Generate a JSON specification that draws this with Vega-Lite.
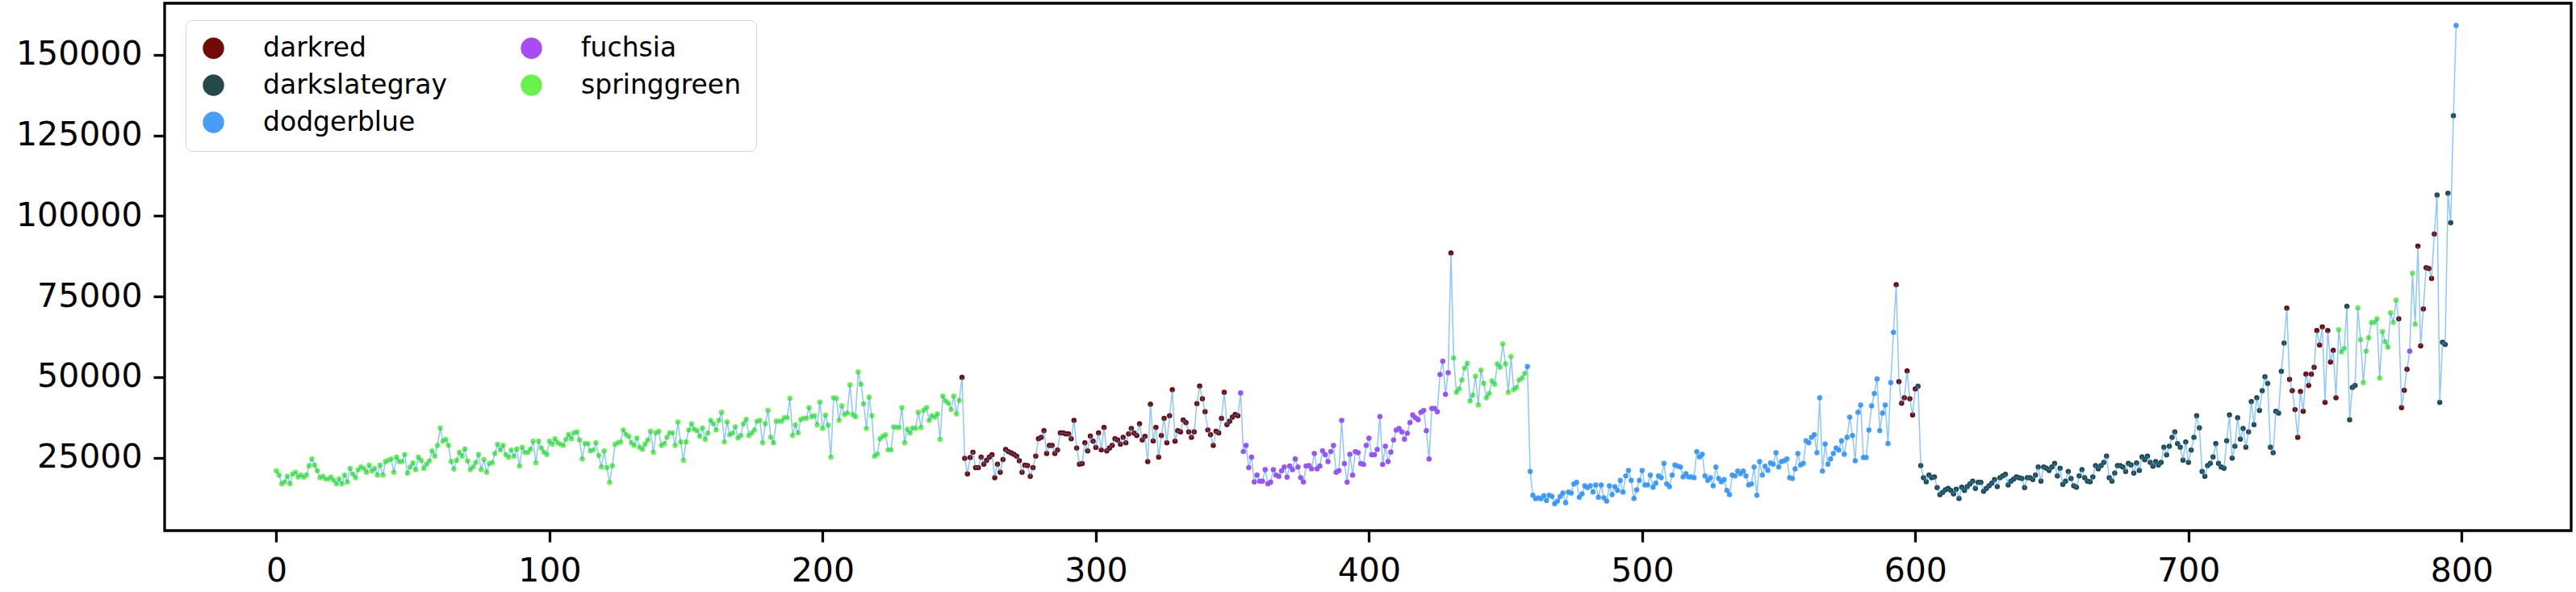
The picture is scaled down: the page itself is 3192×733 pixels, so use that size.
{
"$schema":"https://vega.github.io/schema/vega-lite/v6.json",
"width":2982,"height":653,
"autosize":{"type":"none"},
"padding":{"left":204,"top":4,"right":6,"bottom":76},
"background":"white",
"config":{"view":{"stroke":"#000000","strokeWidth":3.3},"font":"DejaVu Sans",
"axis":{"domain":false,"grid":false,"ticks":true,"tickColor":"#000000","tickWidth":3.3,"tickSize":14,"labelFont":"DejaVu Sans","labelFontSize":41,"labelColor":"#000000","title":null}},
"data":{"values":[
{"x":0,"y":20900,"c":"springgreen"},{"x":1,"y":19600,"c":"springgreen"},{"x":2,"y":16900,"c":"springgreen"},{"x":3,"y":17500,"c":"springgreen"},{"x":4,"y":19200,"c":"springgreen"},{"x":5,"y":16900,"c":"springgreen"},{"x":6,"y":20000,"c":"springgreen"},{"x":7,"y":20500,"c":"springgreen"},{"x":8,"y":19000,"c":"springgreen"},{"x":9,"y":19600,"c":"springgreen"},
{"x":10,"y":19000,"c":"springgreen"},{"x":11,"y":19600,"c":"springgreen"},{"x":12,"y":22500,"c":"springgreen"},{"x":13,"y":24600,"c":"springgreen"},{"x":14,"y":22700,"c":"springgreen"},{"x":15,"y":21000,"c":"springgreen"},{"x":16,"y":18800,"c":"springgreen"},{"x":17,"y":19200,"c":"springgreen"},{"x":18,"y":18400,"c":"springgreen"},{"x":19,"y":18400,"c":"springgreen"},
{"x":20,"y":19000,"c":"springgreen"},{"x":21,"y":18000,"c":"springgreen"},{"x":22,"y":16900,"c":"springgreen"},{"x":23,"y":18400,"c":"springgreen"},{"x":24,"y":16900,"c":"springgreen"},{"x":25,"y":19600,"c":"springgreen"},{"x":26,"y":17500,"c":"springgreen"},{"x":27,"y":21700,"c":"springgreen"},{"x":28,"y":19900,"c":"springgreen"},{"x":29,"y":18800,"c":"springgreen"},
{"x":30,"y":21300,"c":"springgreen"},{"x":31,"y":22100,"c":"springgreen"},{"x":32,"y":21700,"c":"springgreen"},{"x":33,"y":20500,"c":"springgreen"},{"x":34,"y":22700,"c":"springgreen"},{"x":35,"y":20900,"c":"springgreen"},{"x":36,"y":21700,"c":"springgreen"},{"x":37,"y":19600,"c":"springgreen"},{"x":38,"y":22700,"c":"springgreen"},{"x":39,"y":19600,"c":"springgreen"},
{"x":40,"y":23800,"c":"springgreen"},{"x":41,"y":24200,"c":"springgreen"},{"x":42,"y":24600,"c":"springgreen"},{"x":43,"y":20500,"c":"springgreen"},{"x":44,"y":25200,"c":"springgreen"},{"x":45,"y":23800,"c":"springgreen"},{"x":46,"y":23800,"c":"springgreen"},{"x":47,"y":26000,"c":"springgreen"},{"x":48,"y":20200,"c":"springgreen"},{"x":49,"y":22100,"c":"springgreen"},
{"x":50,"y":23400,"c":"springgreen"},{"x":51,"y":21300,"c":"springgreen"},{"x":52,"y":25200,"c":"springgreen"},{"x":53,"y":24200,"c":"springgreen"},{"x":54,"y":21700,"c":"springgreen"},{"x":55,"y":23000,"c":"springgreen"},{"x":56,"y":24000,"c":"springgreen"},{"x":57,"y":27100,"c":"springgreen"},{"x":58,"y":25500,"c":"springgreen"},{"x":59,"y":28800,"c":"springgreen"},
{"x":60,"y":34200,"c":"springgreen"},{"x":61,"y":30100,"c":"springgreen"},{"x":62,"y":30700,"c":"springgreen"},{"x":63,"y":28800,"c":"springgreen"},{"x":64,"y":23800,"c":"springgreen"},{"x":65,"y":21500,"c":"springgreen"},{"x":66,"y":24200,"c":"springgreen"},{"x":67,"y":26700,"c":"springgreen"},{"x":68,"y":25500,"c":"springgreen"},{"x":69,"y":27700,"c":"springgreen"},
{"x":70,"y":24000,"c":"springgreen"},{"x":71,"y":21300,"c":"springgreen"},{"x":72,"y":22100,"c":"springgreen"},{"x":73,"y":23500,"c":"springgreen"},{"x":74,"y":26000,"c":"springgreen"},{"x":75,"y":21300,"c":"springgreen"},{"x":76,"y":24400,"c":"springgreen"},{"x":77,"y":20500,"c":"springgreen"},{"x":78,"y":23200,"c":"springgreen"},{"x":79,"y":23400,"c":"springgreen"},
{"x":80,"y":26300,"c":"springgreen"},{"x":81,"y":29100,"c":"springgreen"},{"x":82,"y":27400,"c":"springgreen"},{"x":83,"y":28800,"c":"springgreen"},{"x":84,"y":25900,"c":"springgreen"},{"x":85,"y":25200,"c":"springgreen"},{"x":86,"y":27400,"c":"springgreen"},{"x":87,"y":25500,"c":"springgreen"},{"x":88,"y":27700,"c":"springgreen"},{"x":89,"y":22400,"c":"springgreen"},
{"x":90,"y":28200,"c":"springgreen"},{"x":91,"y":26600,"c":"springgreen"},{"x":92,"y":26600,"c":"springgreen"},{"x":93,"y":27600,"c":"springgreen"},{"x":94,"y":30100,"c":"springgreen"},{"x":95,"y":23400,"c":"springgreen"},{"x":96,"y":30100,"c":"springgreen"},{"x":97,"y":28000,"c":"springgreen"},{"x":98,"y":26700,"c":"springgreen"},{"x":99,"y":26000,"c":"springgreen"},
{"x":100,"y":30100,"c":"springgreen"},{"x":101,"y":29200,"c":"springgreen"},{"x":102,"y":30900,"c":"springgreen"},{"x":103,"y":29600,"c":"springgreen"},{"x":104,"y":29200,"c":"springgreen"},{"x":105,"y":28800,"c":"springgreen"},{"x":106,"y":30700,"c":"springgreen"},{"x":107,"y":32200,"c":"springgreen"},{"x":108,"y":30900,"c":"springgreen"},{"x":109,"y":32700,"c":"springgreen"},
{"x":110,"y":33000,"c":"springgreen"},{"x":111,"y":30500,"c":"springgreen"},{"x":112,"y":24600,"c":"springgreen"},{"x":113,"y":29400,"c":"springgreen"},{"x":114,"y":29400,"c":"springgreen"},{"x":115,"y":27100,"c":"springgreen"},{"x":116,"y":27400,"c":"springgreen"},{"x":117,"y":29600,"c":"springgreen"},{"x":118,"y":25700,"c":"springgreen"},{"x":119,"y":22100,"c":"springgreen"},
{"x":120,"y":27100,"c":"springgreen"},{"x":121,"y":21900,"c":"springgreen"},{"x":122,"y":17300,"c":"springgreen"},{"x":123,"y":22500,"c":"springgreen"},{"x":124,"y":29100,"c":"springgreen"},{"x":125,"y":29600,"c":"springgreen"},{"x":126,"y":29900,"c":"springgreen"},{"x":127,"y":33600,"c":"springgreen"},{"x":128,"y":32200,"c":"springgreen"},{"x":129,"y":31600,"c":"springgreen"},
{"x":130,"y":29600,"c":"springgreen"},{"x":131,"y":28800,"c":"springgreen"},{"x":132,"y":31100,"c":"springgreen"},{"x":133,"y":28200,"c":"springgreen"},{"x":134,"y":27600,"c":"springgreen"},{"x":135,"y":29200,"c":"springgreen"},{"x":136,"y":30500,"c":"springgreen"},{"x":137,"y":33200,"c":"springgreen"},{"x":138,"y":26700,"c":"springgreen"},{"x":139,"y":32700,"c":"springgreen"},
{"x":140,"y":33200,"c":"springgreen"},{"x":141,"y":28800,"c":"springgreen"},{"x":142,"y":29400,"c":"springgreen"},{"x":143,"y":31300,"c":"springgreen"},{"x":144,"y":32700,"c":"springgreen"},{"x":145,"y":32700,"c":"springgreen"},{"x":146,"y":28800,"c":"springgreen"},{"x":147,"y":36100,"c":"springgreen"},{"x":148,"y":29900,"c":"springgreen"},{"x":149,"y":24200,"c":"springgreen"},
{"x":150,"y":29900,"c":"springgreen"},{"x":151,"y":33600,"c":"springgreen"},{"x":152,"y":35500,"c":"springgreen"},{"x":153,"y":33800,"c":"springgreen"},{"x":154,"y":33400,"c":"springgreen"},{"x":155,"y":31600,"c":"springgreen"},{"x":156,"y":34200,"c":"springgreen"},{"x":157,"y":30700,"c":"springgreen"},{"x":158,"y":32600,"c":"springgreen"},{"x":159,"y":36600,"c":"springgreen"},
{"x":160,"y":35500,"c":"springgreen"},{"x":161,"y":33600,"c":"springgreen"},{"x":162,"y":36600,"c":"springgreen"},{"x":163,"y":39100,"c":"springgreen"},{"x":164,"y":29900,"c":"springgreen"},{"x":165,"y":36100,"c":"springgreen"},{"x":166,"y":32100,"c":"springgreen"},{"x":167,"y":32600,"c":"springgreen"},{"x":168,"y":34600,"c":"springgreen"},{"x":169,"y":31100,"c":"springgreen"},
{"x":170,"y":31900,"c":"springgreen"},{"x":171,"y":35500,"c":"springgreen"},{"x":172,"y":36900,"c":"springgreen"},{"x":173,"y":31900,"c":"springgreen"},{"x":174,"y":32600,"c":"springgreen"},{"x":175,"y":33600,"c":"springgreen"},{"x":176,"y":36300,"c":"springgreen"},{"x":177,"y":36600,"c":"springgreen"},{"x":178,"y":29600,"c":"springgreen"},{"x":179,"y":35500,"c":"springgreen"},
{"x":180,"y":39700,"c":"springgreen"},{"x":181,"y":31300,"c":"springgreen"},{"x":182,"y":29600,"c":"springgreen"},{"x":183,"y":36300,"c":"springgreen"},{"x":184,"y":36300,"c":"springgreen"},{"x":185,"y":36300,"c":"springgreen"},{"x":186,"y":37400,"c":"springgreen"},{"x":187,"y":37400,"c":"springgreen"},{"x":188,"y":43400,"c":"springgreen"},{"x":189,"y":31900,"c":"springgreen"},
{"x":190,"y":35200,"c":"springgreen"},{"x":191,"y":32700,"c":"springgreen"},{"x":192,"y":36900,"c":"springgreen"},{"x":193,"y":37200,"c":"springgreen"},{"x":194,"y":37200,"c":"springgreen"},{"x":195,"y":40500,"c":"springgreen"},{"x":196,"y":37700,"c":"springgreen"},{"x":197,"y":38000,"c":"springgreen"},{"x":198,"y":35200,"c":"springgreen"},{"x":199,"y":42200,"c":"springgreen"},
{"x":200,"y":34100,"c":"springgreen"},{"x":201,"y":38200,"c":"springgreen"},{"x":202,"y":35100,"c":"springgreen"},{"x":203,"y":25200,"c":"springgreen"},{"x":204,"y":43600,"c":"springgreen"},{"x":205,"y":43400,"c":"springgreen"},{"x":206,"y":36600,"c":"springgreen"},{"x":207,"y":41100,"c":"springgreen"},{"x":208,"y":38400,"c":"springgreen"},{"x":209,"y":38800,"c":"springgreen"},
{"x":210,"y":47600,"c":"springgreen"},{"x":211,"y":38400,"c":"springgreen"},{"x":212,"y":37700,"c":"springgreen"},{"x":213,"y":51600,"c":"springgreen"},{"x":214,"y":47800,"c":"springgreen"},{"x":215,"y":41700,"c":"springgreen"},{"x":216,"y":34100,"c":"springgreen"},{"x":217,"y":43800,"c":"springgreen"},{"x":218,"y":38000,"c":"springgreen"},{"x":219,"y":25500,"c":"springgreen"},
{"x":220,"y":26100,"c":"springgreen"},{"x":221,"y":30900,"c":"springgreen"},{"x":222,"y":31600,"c":"springgreen"},{"x":223,"y":32100,"c":"springgreen"},{"x":224,"y":27400,"c":"springgreen"},{"x":225,"y":27400,"c":"springgreen"},{"x":226,"y":34600,"c":"springgreen"},{"x":227,"y":34400,"c":"springgreen"},{"x":228,"y":34400,"c":"springgreen"},{"x":229,"y":40500,"c":"springgreen"},
{"x":230,"y":29600,"c":"springgreen"},{"x":231,"y":33800,"c":"springgreen"},{"x":232,"y":32600,"c":"springgreen"},{"x":233,"y":34200,"c":"springgreen"},{"x":234,"y":34100,"c":"springgreen"},{"x":235,"y":39100,"c":"springgreen"},{"x":236,"y":34400,"c":"springgreen"},{"x":237,"y":39700,"c":"springgreen"},{"x":238,"y":40500,"c":"springgreen"},{"x":239,"y":36600,"c":"springgreen"},
{"x":240,"y":38000,"c":"springgreen"},{"x":241,"y":37600,"c":"springgreen"},{"x":242,"y":38600,"c":"springgreen"},{"x":243,"y":30700,"c":"springgreen"},{"x":244,"y":44100,"c":"springgreen"},{"x":245,"y":42600,"c":"springgreen"},{"x":246,"y":41900,"c":"springgreen"},{"x":247,"y":39900,"c":"springgreen"},{"x":248,"y":44100,"c":"springgreen"},{"x":249,"y":38600,"c":"springgreen"},
{"x":250,"y":42750,"c":"springgreen"},{"x":251,"y":49900,"c":"darkred"},{"x":252,"y":24800,"c":"darkred"},{"x":253,"y":20000,"c":"darkred"},{"x":254,"y":25050,"c":"darkred"},{"x":255,"y":26700,"c":"darkred"},{"x":256,"y":21900,"c":"darkred"},{"x":257,"y":21900,"c":"darkred"},{"x":258,"y":25200,"c":"darkred"},{"x":259,"y":23000,"c":"darkred"},
{"x":260,"y":24200,"c":"darkred"},{"x":261,"y":25200,"c":"darkred"},{"x":262,"y":25900,"c":"darkred"},{"x":263,"y":18800,"c":"darkred"},{"x":264,"y":23000,"c":"darkred"},{"x":265,"y":20500,"c":"darkred"},{"x":266,"y":24400,"c":"darkred"},{"x":267,"y":27550,"c":"darkred"},{"x":268,"y":26900,"c":"darkred"},{"x":269,"y":26500,"c":"darkred"},
{"x":270,"y":26050,"c":"darkred"},{"x":271,"y":25500,"c":"darkred"},{"x":272,"y":24050,"c":"darkred"},{"x":273,"y":20500,"c":"darkred"},{"x":274,"y":22700,"c":"darkred"},{"x":275,"y":22550,"c":"darkred"},{"x":276,"y":19200,"c":"darkred"},{"x":277,"y":21900,"c":"darkred"},{"x":278,"y":25500,"c":"darkred"},{"x":279,"y":30900,"c":"darkred"},
{"x":280,"y":31300,"c":"darkred"},{"x":281,"y":33400,"c":"darkred"},{"x":282,"y":26300,"c":"darkred"},{"x":283,"y":28800,"c":"darkred"},{"x":284,"y":28800,"c":"darkred"},{"x":285,"y":26300,"c":"darkred"},{"x":286,"y":27400,"c":"darkred"},{"x":287,"y":32700,"c":"darkred"},{"x":288,"y":32700,"c":"darkred"},{"x":289,"y":32400,"c":"darkred"},
{"x":290,"y":32400,"c":"darkred"},{"x":291,"y":30900,"c":"darkred"},{"x":292,"y":36600,"c":"darkred"},{"x":293,"y":28000,"c":"darkred"},{"x":294,"y":23000,"c":"darkred"},{"x":295,"y":23200,"c":"darkred"},{"x":296,"y":29600,"c":"darkred"},{"x":297,"y":27100,"c":"darkred"},{"x":298,"y":31700,"c":"darkred"},{"x":299,"y":30100,"c":"darkred"},
{"x":300,"y":28200,"c":"darkred"},{"x":301,"y":32700,"c":"darkred"},{"x":302,"y":27400,"c":"darkred"},{"x":303,"y":34400,"c":"darkred"},{"x":304,"y":27100,"c":"darkred"},{"x":305,"y":28000,"c":"darkred"},{"x":306,"y":28800,"c":"darkred"},{"x":307,"y":30900,"c":"darkred"},{"x":308,"y":30500,"c":"darkred"},{"x":309,"y":29200,"c":"darkred"},
{"x":310,"y":31300,"c":"darkred"},{"x":311,"y":29600,"c":"darkred"},{"x":312,"y":32400,"c":"darkred"},{"x":313,"y":34100,"c":"darkred"},{"x":314,"y":32600,"c":"darkred"},{"x":315,"y":31900,"c":"darkred"},{"x":316,"y":35500,"c":"darkred"},{"x":317,"y":30500,"c":"darkred"},{"x":318,"y":31600,"c":"darkred"},{"x":319,"y":23800,"c":"darkred"},
{"x":320,"y":41600,"c":"darkred"},{"x":321,"y":30200,"c":"darkred"},{"x":322,"y":34400,"c":"darkred"},{"x":323,"y":25200,"c":"darkred"},{"x":324,"y":31900,"c":"darkred"},{"x":325,"y":37200,"c":"darkred"},{"x":326,"y":29600,"c":"darkred"},{"x":327,"y":38000,"c":"darkred"},{"x":328,"y":46100,"c":"darkred"},{"x":329,"y":30100,"c":"darkred"},
{"x":330,"y":33400,"c":"darkred"},{"x":331,"y":33000,"c":"darkred"},{"x":332,"y":36700,"c":"darkred"},{"x":333,"y":35900,"c":"darkred"},{"x":334,"y":33000,"c":"darkred"},{"x":335,"y":31300,"c":"darkred"},{"x":336,"y":33000,"c":"darkred"},{"x":337,"y":41750,"c":"darkred"},{"x":338,"y":47200,"c":"darkred"},{"x":339,"y":43250,"c":"darkred"},
{"x":340,"y":39250,"c":"darkred"},{"x":341,"y":33600,"c":"darkred"},{"x":342,"y":32150,"c":"darkred"},{"x":343,"y":28800,"c":"darkred"},{"x":344,"y":33200,"c":"darkred"},{"x":345,"y":32700,"c":"darkred"},{"x":346,"y":37200,"c":"darkred"},{"x":347,"y":45300,"c":"darkred"},{"x":348,"y":35250,"c":"darkred"},{"x":349,"y":36300,"c":"darkred"},
{"x":350,"y":37600,"c":"darkred"},{"x":351,"y":38400,"c":"darkred"},{"x":352,"y":38000,"c":"darkred"},{"x":353,"y":45100,"c":"fuchsia"},{"x":354,"y":26900,"c":"fuchsia"},{"x":355,"y":28800,"c":"fuchsia"},{"x":356,"y":21900,"c":"fuchsia"},{"x":357,"y":25200,"c":"fuchsia"},{"x":358,"y":17500,"c":"fuchsia"},{"x":359,"y":19600,"c":"fuchsia"},
{"x":360,"y":17700,"c":"fuchsia"},{"x":361,"y":17700,"c":"fuchsia"},{"x":362,"y":21300,"c":"fuchsia"},{"x":363,"y":16900,"c":"fuchsia"},{"x":364,"y":17400,"c":"fuchsia"},{"x":365,"y":21300,"c":"fuchsia"},{"x":366,"y":19600,"c":"fuchsia"},{"x":367,"y":19200,"c":"fuchsia"},{"x":368,"y":20900,"c":"fuchsia"},{"x":369,"y":22100,"c":"fuchsia"},
{"x":370,"y":19000,"c":"fuchsia"},{"x":371,"y":22400,"c":"fuchsia"},{"x":372,"y":21300,"c":"fuchsia"},{"x":373,"y":24600,"c":"fuchsia"},{"x":374,"y":22100,"c":"fuchsia"},{"x":375,"y":18800,"c":"fuchsia"},{"x":376,"y":17500,"c":"fuchsia"},{"x":377,"y":22400,"c":"fuchsia"},{"x":378,"y":22550,"c":"fuchsia"},{"x":379,"y":21550,"c":"fuchsia"},
{"x":380,"y":26300,"c":"fuchsia"},{"x":381,"y":21550,"c":"fuchsia"},{"x":382,"y":22400,"c":"fuchsia"},{"x":383,"y":27150,"c":"fuchsia"},{"x":384,"y":25900,"c":"fuchsia"},{"x":385,"y":23800,"c":"fuchsia"},{"x":386,"y":26900,"c":"fuchsia"},{"x":387,"y":28800,"c":"fuchsia"},{"x":388,"y":20500,"c":"fuchsia"},{"x":389,"y":21000,"c":"fuchsia"},
{"x":390,"y":36600,"c":"fuchsia"},{"x":391,"y":23200,"c":"fuchsia"},{"x":392,"y":17400,"c":"fuchsia"},{"x":393,"y":26050,"c":"fuchsia"},{"x":394,"y":19600,"c":"fuchsia"},{"x":395,"y":26900,"c":"fuchsia"},{"x":396,"y":26550,"c":"fuchsia"},{"x":397,"y":23200,"c":"fuchsia"},{"x":398,"y":22950,"c":"fuchsia"},{"x":399,"y":28800,"c":"fuchsia"},
{"x":400,"y":31060,"c":"fuchsia"},{"x":401,"y":25900,"c":"fuchsia"},{"x":402,"y":25900,"c":"fuchsia"},{"x":403,"y":27550,"c":"fuchsia"},{"x":404,"y":37740,"c":"fuchsia"},{"x":405,"y":22950,"c":"fuchsia"},{"x":406,"y":28560,"c":"fuchsia"},{"x":407,"y":23800,"c":"fuchsia"},{"x":408,"y":26720,"c":"fuchsia"},{"x":409,"y":30480,"c":"fuchsia"},
{"x":410,"y":33570,"c":"fuchsia"},{"x":411,"y":34070,"c":"fuchsia"},{"x":412,"y":32980,"c":"fuchsia"},{"x":413,"y":30730,"c":"fuchsia"},{"x":414,"y":32570,"c":"fuchsia"},{"x":415,"y":35900,"c":"fuchsia"},{"x":416,"y":38240,"c":"fuchsia"},{"x":417,"y":37410,"c":"fuchsia"},{"x":418,"y":36740,"c":"fuchsia"},{"x":419,"y":39080,"c":"fuchsia"},
{"x":420,"y":39660,"c":"fuchsia"},{"x":421,"y":33400,"c":"fuchsia"},{"x":422,"y":24630,"c":"fuchsia"},{"x":423,"y":40250,"c":"fuchsia"},{"x":424,"y":40250,"c":"fuchsia"},{"x":425,"y":39250,"c":"fuchsia"},{"x":426,"y":50770,"c":"fuchsia"},{"x":427,"y":54940,"c":"fuchsia"},{"x":428,"y":44670,"c":"fuchsia"},{"x":429,"y":51350,"c":"fuchsia"},
{"x":430,"y":88510,"c":"darkred"},{"x":431,"y":55950,"c":"springgreen"},{"x":432,"y":45260,"c":"springgreen"},{"x":433,"y":46340,"c":"springgreen"},{"x":434,"y":49100,"c":"springgreen"},{"x":435,"y":52770,"c":"springgreen"},{"x":436,"y":54280,"c":"springgreen"},{"x":437,"y":42590,"c":"springgreen"},{"x":438,"y":44420,"c":"springgreen"},{"x":439,"y":50270,"c":"springgreen"},
{"x":440,"y":41330,"c":"springgreen"},{"x":441,"y":52190,"c":"springgreen"},{"x":442,"y":48010,"c":"springgreen"},{"x":443,"y":43590,"c":"springgreen"},{"x":444,"y":44920,"c":"springgreen"},{"x":445,"y":48850,"c":"springgreen"},{"x":446,"y":47760,"c":"springgreen"},{"x":447,"y":54110,"c":"springgreen"},{"x":448,"y":53030,"c":"springgreen"},{"x":449,"y":60290,"c":"springgreen"},
{"x":450,"y":54110,"c":"springgreen"},{"x":451,"y":45260,"c":"springgreen"},{"x":452,"y":56360,"c":"springgreen"},{"x":453,"y":46090,"c":"springgreen"},{"x":454,"y":46760,"c":"springgreen"},{"x":455,"y":49100,"c":"springgreen"},{"x":456,"y":49680,"c":"springgreen"},{"x":457,"y":51100,"c":"springgreen"},{"x":458,"y":53270,"c":"dodgerblue"},{"x":459,"y":20710,"c":"dodgerblue"},
{"x":460,"y":13360,"c":"dodgerblue"},{"x":461,"y":12270,"c":"dodgerblue"},{"x":462,"y":12525,"c":"dodgerblue"},{"x":463,"y":12270,"c":"dodgerblue"},{"x":464,"y":13190,"c":"dodgerblue"},{"x":465,"y":11690,"c":"dodgerblue"},{"x":466,"y":13360,"c":"dodgerblue"},{"x":467,"y":12940,"c":"dodgerblue"},{"x":468,"y":10690,"c":"dodgerblue"},{"x":469,"y":11520,"c":"dodgerblue"},
{"x":470,"y":12940,"c":"dodgerblue"},{"x":471,"y":14030,"c":"dodgerblue"},{"x":472,"y":11020,"c":"dodgerblue"},{"x":473,"y":14360,"c":"dodgerblue"},{"x":474,"y":14030,"c":"dodgerblue"},{"x":475,"y":16870,"c":"dodgerblue"},{"x":476,"y":17370,"c":"dodgerblue"},{"x":477,"y":12690,"c":"dodgerblue"},{"x":478,"y":13780,"c":"dodgerblue"},{"x":479,"y":16280,"c":"dodgerblue"},
{"x":480,"y":15700,"c":"dodgerblue"},{"x":481,"y":16280,"c":"dodgerblue"},{"x":482,"y":14360,"c":"dodgerblue"},{"x":483,"y":16530,"c":"dodgerblue"},{"x":484,"y":12690,"c":"dodgerblue"},{"x":485,"y":16530,"c":"dodgerblue"},{"x":486,"y":12525,"c":"dodgerblue"},{"x":487,"y":11520,"c":"dodgerblue"},{"x":488,"y":16280,"c":"dodgerblue"},{"x":489,"y":13530,"c":"dodgerblue"},
{"x":490,"y":16030,"c":"dodgerblue"},{"x":491,"y":14860,"c":"dodgerblue"},{"x":492,"y":17950,"c":"dodgerblue"},{"x":493,"y":14360,"c":"dodgerblue"},{"x":494,"y":19370,"c":"dodgerblue"},{"x":495,"y":21040,"c":"dodgerblue"},{"x":496,"y":17950,"c":"dodgerblue"},{"x":497,"y":12360,"c":"dodgerblue"},{"x":498,"y":15030,"c":"dodgerblue"},{"x":499,"y":17950,"c":"dodgerblue"},
{"x":500,"y":21040,"c":"dodgerblue"},{"x":501,"y":16530,"c":"dodgerblue"},{"x":502,"y":16530,"c":"dodgerblue"},{"x":503,"y":19620,"c":"dodgerblue"},{"x":504,"y":15860,"c":"dodgerblue"},{"x":505,"y":17120,"c":"dodgerblue"},{"x":506,"y":19370,"c":"dodgerblue"},{"x":507,"y":18790,"c":"dodgerblue"},{"x":508,"y":23210,"c":"dodgerblue"},{"x":509,"y":16870,"c":"dodgerblue"},
{"x":510,"y":16030,"c":"dodgerblue"},{"x":511,"y":19620,"c":"dodgerblue"},{"x":512,"y":22710,"c":"dodgerblue"},{"x":513,"y":22380,"c":"dodgerblue"},{"x":514,"y":22130,"c":"dodgerblue"},{"x":515,"y":19040,"c":"dodgerblue"},{"x":516,"y":20040,"c":"dodgerblue"},{"x":517,"y":19040,"c":"dodgerblue"},{"x":518,"y":19040,"c":"dodgerblue"},{"x":519,"y":18790,"c":"dodgerblue"},
{"x":520,"y":26890,"c":"dodgerblue"},{"x":521,"y":25220,"c":"dodgerblue"},{"x":522,"y":26050,"c":"dodgerblue"},{"x":523,"y":19370,"c":"dodgerblue"},{"x":524,"y":17950,"c":"dodgerblue"},{"x":525,"y":18790,"c":"dodgerblue"},{"x":526,"y":16280,"c":"dodgerblue"},{"x":527,"y":22130,"c":"dodgerblue"},{"x":528,"y":18540,"c":"dodgerblue"},{"x":529,"y":17530,"c":"dodgerblue"},
{"x":530,"y":18200,"c":"dodgerblue"},{"x":531,"y":14860,"c":"dodgerblue"},{"x":532,"y":13530,"c":"dodgerblue"},{"x":533,"y":19620,"c":"dodgerblue"},{"x":534,"y":19370,"c":"dodgerblue"},{"x":535,"y":20870,"c":"dodgerblue"},{"x":536,"y":20040,"c":"dodgerblue"},{"x":537,"y":20870,"c":"dodgerblue"},{"x":538,"y":19370,"c":"dodgerblue"},{"x":539,"y":16530,"c":"dodgerblue"},
{"x":540,"y":16870,"c":"dodgerblue"},{"x":541,"y":22130,"c":"dodgerblue"},{"x":542,"y":13360,"c":"dodgerblue"},{"x":543,"y":23800,"c":"dodgerblue"},{"x":544,"y":19620,"c":"dodgerblue"},{"x":545,"y":22380,"c":"dodgerblue"},{"x":546,"y":21040,"c":"dodgerblue"},{"x":547,"y":23380,"c":"dodgerblue"},{"x":548,"y":22960,"c":"dodgerblue"},{"x":549,"y":26550,"c":"dodgerblue"},
{"x":550,"y":22130,"c":"dodgerblue"},{"x":551,"y":23800,"c":"dodgerblue"},{"x":552,"y":24050,"c":"dodgerblue"},{"x":553,"y":24630,"c":"dodgerblue"},{"x":554,"y":18790,"c":"dodgerblue"},{"x":555,"y":18540,"c":"dodgerblue"},{"x":556,"y":21540,"c":"dodgerblue"},{"x":557,"y":26300,"c":"dodgerblue"},{"x":558,"y":22710,"c":"dodgerblue"},{"x":559,"y":23210,"c":"dodgerblue"},
{"x":560,"y":30230,"c":"dodgerblue"},{"x":561,"y":29640,"c":"dodgerblue"},{"x":562,"y":31310,"c":"dodgerblue"},{"x":563,"y":32150,"c":"dodgerblue"},{"x":564,"y":26550,"c":"dodgerblue"},{"x":565,"y":43590,"c":"dodgerblue"},{"x":566,"y":20870,"c":"dodgerblue"},{"x":567,"y":29230,"c":"dodgerblue"},{"x":568,"y":22960,"c":"dodgerblue"},{"x":569,"y":24630,"c":"dodgerblue"},
{"x":570,"y":26300,"c":"dodgerblue"},{"x":571,"y":27970,"c":"dodgerblue"},{"x":572,"y":27390,"c":"dodgerblue"},{"x":573,"y":30230,"c":"dodgerblue"},{"x":574,"y":26050,"c":"dodgerblue"},{"x":575,"y":31310,"c":"dodgerblue"},{"x":576,"y":37570,"c":"dodgerblue"},{"x":577,"y":31900,"c":"dodgerblue"},{"x":578,"y":24050,"c":"dodgerblue"},{"x":579,"y":39080,"c":"dodgerblue"},
{"x":580,"y":41330,"c":"dodgerblue"},{"x":581,"y":25050,"c":"dodgerblue"},{"x":582,"y":25050,"c":"dodgerblue"},{"x":583,"y":33570,"c":"dodgerblue"},{"x":584,"y":41080,"c":"dodgerblue"},{"x":585,"y":44920,"c":"dodgerblue"},{"x":586,"y":49430,"c":"dodgerblue"},{"x":587,"y":33400,"c":"dodgerblue"},{"x":588,"y":38830,"c":"dodgerblue"},{"x":589,"y":41330,"c":"dodgerblue"},
{"x":590,"y":29390,"c":"dodgerblue"},{"x":591,"y":48260,"c":"dodgerblue"},{"x":592,"y":63880,"c":"dodgerblue"},{"x":593,"y":78660,"c":"darkred"},{"x":594,"y":48600,"c":"darkred"},{"x":595,"y":41920,"c":"darkred"},{"x":596,"y":43590,"c":"darkred"},{"x":597,"y":51940,"c":"darkred"},{"x":598,"y":43250,"c":"darkred"},{"x":599,"y":38240,"c":"darkred"},
{"x":600,"y":46340,"c":"darkred"},{"x":601,"y":47180,"c":"darkslategray"},{"x":602,"y":22550,"c":"darkslategray"},{"x":603,"y":18790,"c":"darkslategray"},{"x":604,"y":17530,"c":"darkslategray"},{"x":605,"y":19620,"c":"darkslategray"},{"x":606,"y":18790,"c":"darkslategray"},{"x":607,"y":19040,"c":"darkslategray"},{"x":608,"y":15700,"c":"darkslategray"},{"x":609,"y":13530,"c":"darkslategray"},
{"x":610,"y":14200,"c":"darkslategray"},{"x":611,"y":15030,"c":"darkslategray"},{"x":612,"y":15450,"c":"darkslategray"},{"x":613,"y":14860,"c":"darkslategray"},{"x":614,"y":13780,"c":"darkslategray"},{"x":615,"y":15200,"c":"darkslategray"},{"x":616,"y":12360,"c":"darkslategray"},{"x":617,"y":15860,"c":"darkslategray"},{"x":618,"y":14860,"c":"darkslategray"},{"x":619,"y":16030,"c":"darkslategray"},
{"x":620,"y":16870,"c":"darkslategray"},{"x":621,"y":17700,"c":"darkslategray"},{"x":622,"y":15450,"c":"darkslategray"},{"x":623,"y":17370,"c":"darkslategray"},{"x":624,"y":17370,"c":"darkslategray"},{"x":625,"y":14610,"c":"darkslategray"},{"x":626,"y":15450,"c":"darkslategray"},{"x":627,"y":16280,"c":"darkslategray"},{"x":628,"y":17120,"c":"darkslategray"},{"x":629,"y":18200,"c":"darkslategray"},
{"x":630,"y":16030,"c":"darkslategray"},{"x":631,"y":18790,"c":"darkslategray"},{"x":632,"y":19370,"c":"darkslategray"},{"x":633,"y":19870,"c":"darkslategray"},{"x":634,"y":16530,"c":"darkslategray"},{"x":635,"y":17700,"c":"darkslategray"},{"x":636,"y":18370,"c":"darkslategray"},{"x":637,"y":19040,"c":"darkslategray"},{"x":638,"y":18790,"c":"darkslategray"},{"x":639,"y":18540,"c":"darkslategray"},
{"x":640,"y":15700,"c":"darkslategray"},{"x":641,"y":18790,"c":"darkslategray"},{"x":642,"y":18790,"c":"darkslategray"},{"x":643,"y":18200,"c":"darkslategray"},{"x":644,"y":19620,"c":"darkslategray"},{"x":645,"y":22130,"c":"darkslategray"},{"x":646,"y":17700,"c":"darkslategray"},{"x":647,"y":22130,"c":"darkslategray"},{"x":648,"y":21710,"c":"darkslategray"},{"x":649,"y":21040,"c":"darkslategray"},
{"x":650,"y":22130,"c":"darkslategray"},{"x":651,"y":23210,"c":"darkslategray"},{"x":652,"y":19370,"c":"darkslategray"},{"x":653,"y":21710,"c":"darkslategray"},{"x":654,"y":16700,"c":"darkslategray"},{"x":655,"y":17700,"c":"darkslategray"},{"x":656,"y":20710,"c":"darkslategray"},{"x":657,"y":18540,"c":"darkslategray"},{"x":658,"y":16280,"c":"darkslategray"},{"x":659,"y":15860,"c":"darkslategray"},
{"x":660,"y":19370,"c":"darkslategray"},{"x":661,"y":21290,"c":"darkslategray"},{"x":662,"y":18790,"c":"darkslategray"},{"x":663,"y":17700,"c":"darkslategray"},{"x":664,"y":17530,"c":"darkslategray"},{"x":665,"y":19040,"c":"darkslategray"},{"x":666,"y":22550,"c":"darkslategray"},{"x":667,"y":21540,"c":"darkslategray"},{"x":668,"y":22550,"c":"darkslategray"},{"x":669,"y":23550,"c":"darkslategray"},
{"x":670,"y":25470,"c":"darkslategray"},{"x":671,"y":18790,"c":"darkslategray"},{"x":672,"y":17700,"c":"darkslategray"},{"x":673,"y":20210,"c":"darkslategray"},{"x":674,"y":22550,"c":"darkslategray"},{"x":675,"y":22550,"c":"darkslategray"},{"x":676,"y":22130,"c":"darkslategray"},{"x":677,"y":20710,"c":"darkslategray"},{"x":678,"y":23210,"c":"darkslategray"},{"x":679,"y":22710,"c":"darkslategray"},
{"x":680,"y":20210,"c":"darkslategray"},{"x":681,"y":23380,"c":"darkslategray"},{"x":682,"y":21040,"c":"darkslategray"},{"x":683,"y":25220,"c":"darkslategray"},{"x":684,"y":24380,"c":"darkslategray"},{"x":685,"y":25470,"c":"darkslategray"},{"x":686,"y":23550,"c":"darkslategray"},{"x":687,"y":22380,"c":"darkslategray"},{"x":688,"y":23800,"c":"darkslategray"},{"x":689,"y":22710,"c":"darkslategray"},
{"x":690,"y":23550,"c":"darkslategray"},{"x":691,"y":28220,"c":"darkslategray"},{"x":692,"y":25880,"c":"darkslategray"},{"x":693,"y":28560,"c":"darkslategray"},{"x":694,"y":31310,"c":"darkslategray"},{"x":695,"y":32980,"c":"darkslategray"},{"x":696,"y":29390,"c":"darkslategray"},{"x":697,"y":28220,"c":"darkslategray"},{"x":698,"y":24220,"c":"darkslategray"},{"x":699,"y":29890,"c":"darkslategray"},
{"x":700,"y":23550,"c":"darkslategray"},{"x":701,"y":27390,"c":"darkslategray"},{"x":702,"y":31310,"c":"darkslategray"},{"x":703,"y":37990,"c":"darkslategray"},{"x":704,"y":34235,"c":"darkslategray"},{"x":705,"y":20710,"c":"darkslategray"},{"x":706,"y":19210,"c":"darkslategray"},{"x":707,"y":22540,"c":"darkslategray"},{"x":708,"y":23210,"c":"darkslategray"},{"x":709,"y":25220,"c":"darkslategray"},
{"x":710,"y":29390,"c":"darkslategray"},{"x":711,"y":23210,"c":"darkslategray"},{"x":712,"y":22130,"c":"darkslategray"},{"x":713,"y":21710,"c":"darkslategray"},{"x":714,"y":30230,"c":"darkslategray"},{"x":715,"y":38240,"c":"darkslategray"},{"x":716,"y":24880,"c":"darkslategray"},{"x":717,"y":28560,"c":"darkslategray"},{"x":718,"y":37410,"c":"darkslategray"},{"x":719,"y":30730,"c":"darkslategray"},
{"x":720,"y":34070,"c":"darkslategray"},{"x":721,"y":28220,"c":"darkslategray"},{"x":722,"y":32980,"c":"darkslategray"},{"x":723,"y":42420,"c":"darkslategray"},{"x":724,"y":35240,"c":"darkslategray"},{"x":725,"y":43590,"c":"darkslategray"},{"x":726,"y":39660,"c":"darkslategray"},{"x":727,"y":45760,"c":"darkslategray"},{"x":728,"y":50100,"c":"darkslategray"},{"x":729,"y":48010,"c":"darkslategray"},
{"x":730,"y":28220,"c":"darkslategray"},{"x":731,"y":26550,"c":"darkslategray"},{"x":732,"y":39410,"c":"darkslategray"},{"x":733,"y":38830,"c":"darkslategray"},{"x":734,"y":51770,"c":"darkslategray"},{"x":735,"y":60540,"c":"darkslategray"},{"x":736,"y":71390,"c":"darkred"},{"x":737,"y":49265,"c":"darkred"},{"x":738,"y":45760,"c":"darkred"},{"x":739,"y":39910,"c":"darkred"},
{"x":740,"y":31310,"c":"darkred"},{"x":741,"y":45510,"c":"darkred"},{"x":742,"y":39410,"c":"darkred"},{"x":743,"y":50940,"c":"darkred"},{"x":744,"y":47430,"c":"darkred"},{"x":745,"y":50940,"c":"darkred"},{"x":746,"y":53020,"c":"darkred"},{"x":747,"y":64460,"c":"darkred"},{"x":748,"y":59950,"c":"darkred"},{"x":749,"y":65550,"c":"darkred"},
{"x":750,"y":42170,"c":"darkred"},{"x":751,"y":64460,"c":"darkred"},{"x":752,"y":54690,"c":"darkred"},{"x":753,"y":58280,"c":"darkred"},{"x":754,"y":43590,"c":"darkred"},{"x":755,"y":64710,"c":"springgreen"},{"x":756,"y":57780,"c":"springgreen"},{"x":757,"y":58870,"c":"springgreen"},{"x":758,"y":71980,"c":"darkslategray"},{"x":759,"y":36740,"c":"darkslategray"},
{"x":760,"y":46760,"c":"darkslategray"},{"x":761,"y":47430,"c":"darkslategray"},{"x":762,"y":71480,"c":"springgreen"},{"x":763,"y":61620,"c":"springgreen"},{"x":764,"y":48260,"c":"springgreen"},{"x":765,"y":58030,"c":"springgreen"},{"x":766,"y":62210,"c":"springgreen"},{"x":767,"y":66970,"c":"springgreen"},{"x":768,"y":66970,"c":"springgreen"},{"x":769,"y":68050,"c":"springgreen"},
{"x":770,"y":49680,"c":"springgreen"},{"x":771,"y":64130,"c":"springgreen"},{"x":772,"y":60955,"c":"springgreen"},{"x":773,"y":59285,"c":"springgreen"},{"x":774,"y":69970,"c":"springgreen"},{"x":775,"y":66970,"c":"springgreen"},{"x":776,"y":73900,"c":"springgreen"},{"x":777,"y":68050,"c":"darkred"},{"x":778,"y":40500,"c":"darkred"},{"x":779,"y":45920,"c":"darkred"},
{"x":780,"y":52440,"c":"darkred"},{"x":781,"y":58030,"c":"fuchsia"},{"x":782,"y":82250,"c":"springgreen"},{"x":783,"y":66380,"c":"springgreen"},{"x":784,"y":90600,"c":"darkred"},{"x":785,"y":59700,"c":"darkred"},{"x":786,"y":71140,"c":"darkred"},{"x":787,"y":83920,"c":"darkred"},{"x":788,"y":83670,"c":"darkred"},{"x":789,"y":80580,"c":"darkred"},
{"x":790,"y":94350,"c":"darkred"},{"x":791,"y":106460,"c":"darkslategray"},{"x":792,"y":42170,"c":"darkslategray"},{"x":793,"y":60790,"c":"darkslategray"},{"x":794,"y":60120,"c":"darkslategray"},{"x":795,"y":107050,"c":"darkslategray"},{"x":796,"y":97860,"c":"darkslategray"},{"x":797,"y":131095,"c":"darkslategray"},{"x":798,"y":159070,"c":"dodgerblue"}
]},
"encoding":{
"x":{"field":"x","type":"quantitative","scale":{"domain":[-40.9,840.1],"nice":false,"zero":false},"axis":{"values":[0,100,200,300,400,500,600,700,800],"labelPadding":16,"format":"d"}},
"y":{"field":"y","type":"quantitative","scale":{"domain":[2380,165960],"nice":false,"zero":false},"axis":{"values":[25000,50000,75000,100000,125000,150000],"labelPadding":14,"format":"d"}}
},
"layer":[
{"mark":{"type":"point","filled":true,"size":42,"opacity":1},
"encoding":{"color":{"field":"c","type":"nominal",
"scale":{"domain":["darkred","darkslategray","dodgerblue","fuchsia","springgreen"],"range":["#720a0a","#234a48","#479ef8","#a84cf5","#67f24c"]},
"legend":{"title":null,"orient":"none","legendX":26,"legendY":21,"columns":2,"columnPadding":88,"rowPadding":12,"symbolType":"circle","symbolSize":700,"symbolOpacity":1,"labelFontSize":33,"labelFont":"DejaVu Sans","labelColor":"#000000","labelOffset":45,"labelLimit":600,"padding":18,"strokeColor":"#d3d8d8","cornerRadius":8,"fillColor":"#ffffff"}}}},
{"mark":{"type":"line","color":"#1e90ff","strokeWidth":1.5,"opacity":0.5},"encoding":{}}
]
}
